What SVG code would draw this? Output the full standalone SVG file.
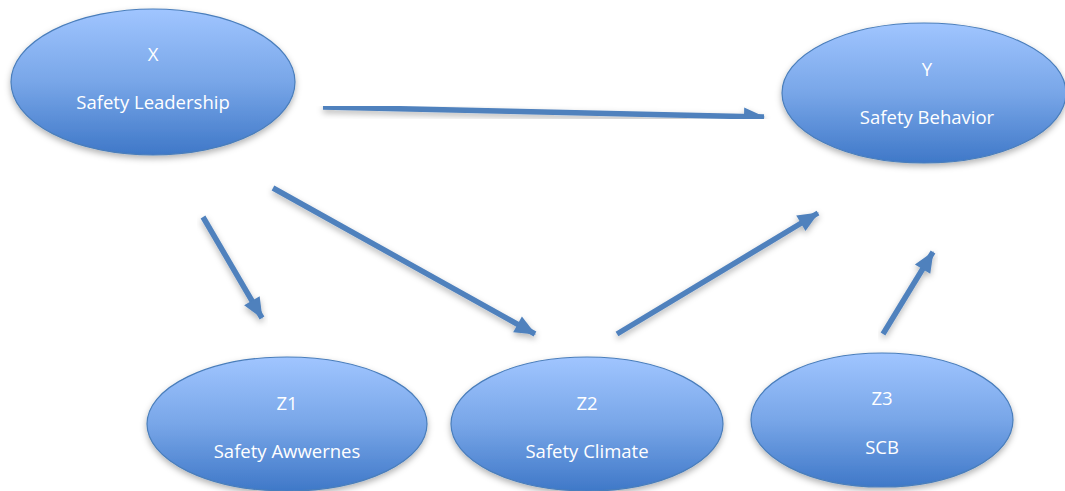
<svg xmlns="http://www.w3.org/2000/svg" width="1065" height="491" viewBox="0 0 1065 491">
<defs>
<linearGradient id="g" x1="0" y1="0" x2="0" y2="1">
<stop offset="0" stop-color="#a0c5ff"/>
<stop offset="0.5" stop-color="#78a6e8"/>
<stop offset="1" stop-color="#3f78c8"/>
</linearGradient>
<filter id="sh" x="-10%" y="-10%" width="120%" height="130%">
<feDropShadow dx="0" dy="3" stdDeviation="3" flood-color="#000" flood-opacity="0.3"/>
</filter>
<marker id="ah" markerUnits="userSpaceOnUse" markerWidth="24" markerHeight="24" viewBox="0 0 24 24" refX="21" refY="12" orient="auto">
<path d="M1,3 L22,12 L1,21 Z" fill="#4f81bd"/>
</marker>
</defs>
<style>
.n ellipse{fill:url(#g);stroke:#4a7ebb;stroke-width:1.2;filter:url(#sh)}
.n text{fill:#fff;font-family:"Open Sans","Liberation Sans",sans-serif;font-size:18.5px;text-anchor:middle}
.c line{stroke:#4f81bd;stroke-width:5.5;marker-end:url(#ah);filter:url(#sh)}
</style>
<rect width="1065" height="491" fill="#fff"/>
<g id="nodeX" class="n">
<ellipse cx="153" cy="82" rx="142" ry="73"/>
<text x="153" y="61">X</text>
<text x="153" y="109">Safety Leadership</text>
</g>
<g id="nodeY" class="n">
<ellipse cx="924" cy="93" rx="142" ry="70"/>
<text x="927" y="76">Y</text>
<text x="927" y="124">Safety Behavior</text>
</g>
<g id="nodeZ1" class="n">
<ellipse cx="287" cy="424" rx="140" ry="67"/>
<text x="287" y="410">Z1</text>
<text x="287" y="458">Safety Awwernes</text>
</g>
<g id="nodeZ2" class="n">
<ellipse cx="587" cy="424" rx="136" ry="67"/>
<text x="587" y="410">Z2</text>
<text x="587" y="458">Safety Climate</text>
</g>
<g id="nodeZ3" class="n">
<ellipse cx="882" cy="420" rx="131" ry="67"/>
<text x="882" y="405">Z3</text>
<text x="882" y="454">SCB</text>
</g>
<g id="connectors" class="c">
<line x1="323" y1="107" x2="764" y2="117"/>
<line x1="203" y1="217" x2="262" y2="318"/>
<line x1="273" y1="188" x2="535" y2="334"/>
<line x1="617" y1="334" x2="818" y2="213"/>
<line x1="883" y1="334" x2="933" y2="252"/>
</g>
</svg>
